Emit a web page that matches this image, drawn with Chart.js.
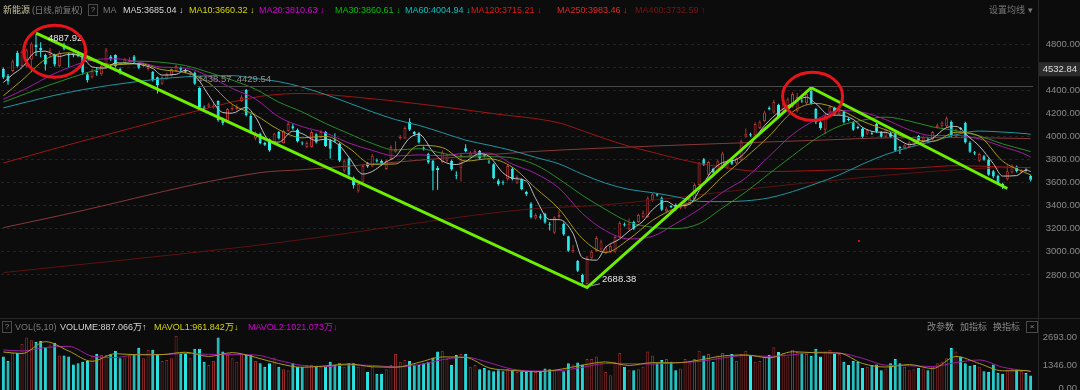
<!DOCTYPE html>
<html>
<head>
<meta charset="utf-8">
<script src="https://cdn.jsdelivr.net/npm/chart.js@4.4.1/dist/chart.umd.min.js"></script>
<style>
body{margin:0;background:#0c0c0c;width:1080px;height:390px;overflow:hidden;position:relative;font-family:"Liberation Sans","Noto Sans CJK SC",sans-serif}
canvas{position:absolute;left:0}
#priceChart{top:0}
#volChart{top:318px}
.t{position:absolute;white-space:nowrap;font-size:9px;line-height:12px}
.box{position:absolute;border:1px solid #4a4a4a;color:#8a8a8a;font-size:8px;line-height:10px;width:8px;height:10px;text-align:center}
</style>
</head>
<body>
<canvas id="priceChart" width="1080" height="318"></canvas>
<canvas id="volChart" width="1080" height="76"></canvas>

<div class="t" style="left:3px;top:4px;color:#c8c4a0">新能源</div>
<div class="t" style="left:32px;top:4px;color:#808080;font-size:8.5px">(日线,前复权)</div>
<div class="box" style="left:88px;top:4px">?</div>
<div class="t" style="left:103px;top:4px;color:#7a7a7a">MA</div>
<div class="t" style="left:123px;top:4px;color:#d4d4d4">MA5:3685.04 ↓</div>
<div class="t" style="left:189px;top:4px;color:#d6d600">MA10:3660.32 ↓</div>
<div class="t" style="left:259px;top:4px;color:#d400d4">MA20:3810.63 ↓</div>
<div class="t" style="left:335px;top:4px;color:#00c000">MA30:3860.61 ↓</div>
<div class="t" style="left:405px;top:4px;color:#00c4c4">MA60:4004.94 ↓</div>
<div class="t" style="left:471px;top:4px;color:#e01818">MA120:3715.21 ↓</div>
<div class="t" style="left:557px;top:4px;color:#e02828">MA250:3983.46 ↓</div>
<div class="t" style="left:635px;top:4px;color:#7e1414">MA400:3732.59 ↑</div>
<div class="t" style="left:989px;top:4px;color:#7a7a7a">设置均线 ▾</div>

<div class="box" style="left:2px;top:321px">?</div>
<div class="t" style="left:15px;top:320.5px;color:#7a7a7a">VOL(5,10)</div>
<div class="t" style="left:60px;top:320.5px;color:#d4d4d4">VOLUME:887.066万↑</div>
<div class="t" style="left:154px;top:320.5px;color:#d6d600">MAVOL1:961.842万↓</div>
<div class="t" style="left:248px;top:320.5px;color:#d400d4">MAVOL2:1021.073万↓</div>
<div class="t" style="left:927px;top:320.5px;color:#8a8a8a">改参数</div>
<div class="t" style="left:960px;top:320.5px;color:#8a8a8a">加指标</div>
<div class="t" style="left:993px;top:320.5px;color:#8a8a8a">换指标</div>
<div class="box" style="left:1026px;top:321px;width:10px">×</div>

<script>
// daily candles (index 0 = leftmost)
const opens = [4587,4530,4571,4729,4613,4613,4668,4800,4773,4709,4710,4704,4613,4800,4717,4717,4720,4709,4543,4516,
  4571,4543,4599,4696,4709,4587,4640,4655,4696,4634,4613,4587,4563,4516,4460,4502,4530,4571,4599,4580,
  4540,4557,4425,4253,4260,4255,4310,4157,4130,4235,4240,4310,4406,4179,3985,4025,3945,3978,3945,4040,
  3945,4050,4090,4060,3950,3910,3910,4020,3990,4040,3970,3975,3940,3705,3810,3645,3530,3605,3770,3740,
  3795,3790,3720,3810,3870,3985,3985,4130,4040,4030,3905,3850,3790,3730,3780,3790,3790,3670,3730,3900,
  3830,3855,3875,3840,3785,3760,3620,3605,3630,3720,3600,3630,3520,3420,3290,3310,3330,3240,3165,3300,
  3245,3135,3005,2920,2800,2720,2945,3010,3020,2990,3000,3000,3130,3240,3200,3260,3260,3300,3300,3445,
  3500,3470,3350,3395,3410,3380,3385,3425,3455,3580,3805,3670,3720,3700,3730,3730,3805,3770,3795,4000,
  4020,4010,4075,4135,4250,4210,4275,4230,4245,4260,4220,4315,4290,4400,4240,4125,4060,4210,4250,4195,
  4215,4155,4125,4085,4070,4025,4035,4110,4040,4000,4030,4035,3910,3900,3910,3930,4005,3955,3985,3975,
  4080,4090,4090,4130,4000,4075,4120,3950,3865,3790,3830,3800,3700,3660,3590,3630,3690,3740,3690,3715,
  3660];
const highs = [4600,4545,4670,4745,4750,4765,4820,4888,4820,4720,4770,4720,4745,4815,4730,4730,4740,4715,4560,4590,
  4600,4625,4770,4710,4715,4600,4685,4690,4710,4645,4640,4615,4570,4520,4525,4555,4595,4625,4610,4590,
  4570,4565,4430,4270,4295,4290,4315,4165,4250,4270,4280,4360,4415,4200,4045,4035,3955,3985,4035,4050,
  4060,4130,4110,4070,3960,3960,4055,4030,4055,4050,3980,4030,3950,3800,3820,3655,3600,3760,3780,3850,
  3810,3800,3800,3925,3960,4015,4090,4160,4050,4040,3915,3860,3800,3745,3880,3850,3800,3700,3850,3935,
  3875,3890,3885,3850,3800,3770,3635,3620,3760,3735,3665,3640,3530,3430,3335,3330,3340,3260,3310,3360,
  3255,3140,3060,2930,2810,2965,3015,3135,3105,3055,3065,3140,3265,3255,3290,3270,3330,3360,3480,3510,
  3510,3480,3390,3405,3420,3410,3450,3480,3595,3780,3815,3790,3730,3800,3870,3800,3815,3820,3975,4070,
  4035,4125,4140,4225,4265,4320,4285,4300,4340,4385,4380,4330,4385,4420,4250,4135,4195,4275,4260,4235,
  4225,4165,4135,4095,4080,4065,4045,4120,4050,4070,4040,4045,3920,3935,3960,3970,4015,4005,3995,4050,
  4115,4135,4175,4140,4070,4085,4130,3960,3875,3860,3840,3810,3710,3670,3600,3750,3760,3750,3720,3725,
  3670];
const lows = [4500,4450,4560,4600,4600,4600,4557,4700,4690,4575,4690,4610,4600,4750,4600,4690,4690,4540,4470,4505,
  4530,4530,4590,4660,4600,4540,4630,4645,4635,4585,4600,4575,4480,4375,4450,4495,4525,4565,4570,4550,
  4530,4450,4240,4225,4250,4245,4130,4100,4120,4225,4230,4300,4175,4025,3970,3935,3920,3870,3935,3975,
  3940,4045,4060,3950,3925,3900,3905,3940,3985,3910,3810,3950,3780,3690,3660,3550,3515,3600,3730,3735,
  3775,3750,3710,3805,3860,3975,3980,4050,4005,3940,3880,3765,3535,3540,3770,3780,3705,3630,3610,3865,
  3820,3845,3800,3820,3765,3630,3575,3580,3620,3620,3590,3535,3485,3290,3280,3280,3245,3185,3155,3290,
  3140,3000,2990,2825,2720,2688,2935,3000,3010,2980,2990,2990,3120,3220,3190,3190,3250,3290,3295,3435,
  3480,3355,3340,3380,3360,3370,3375,3415,3450,3575,3745,3660,3680,3690,3720,3720,3755,3760,3790,3990,
  4000,4000,4065,4125,4230,4200,4160,4220,4240,4250,4210,4295,4280,4280,4110,4060,4020,4200,4190,4185,
  4115,4135,4050,4065,3990,4015,4015,4035,3990,3990,3990,3870,3850,3890,3900,3920,3950,3945,3965,3965,
  4070,4080,4080,3995,3990,4055,3940,3860,3840,3780,3790,3660,3640,3585,3545,3620,3680,3690,3680,3695,
  3610];
const closes = [4516,4480,4654,4613,4737,4750,4806,4778,4750,4626,4750,4626,4729,4764,4704,4708,4705,4557,4489,4571,
  4557,4613,4750,4673,4613,4563,4670,4668,4646,4599,4626,4599,4489,4447,4516,4543,4587,4613,4580,4563,
  4555,4460,4253,4240,4282,4270,4143,4116,4240,4250,4255,4343,4185,4035,4030,3945,3930,3880,4025,3985,
  4050,4110,4070,3960,3940,3945,4040,3950,4040,3920,3895,3965,3790,3790,3670,3580,3590,3745,3740,3835,
  3785,3760,3790,3910,3895,4000,4075,4060,4020,3950,3895,3775,3705,3710,3865,3840,3715,3660,3840,3875,
  3860,3875,3810,3830,3775,3640,3590,3595,3745,3630,3650,3545,3500,3300,3320,3295,3255,3230,3300,3320,
  3150,3010,3015,2835,2735,2950,3000,3120,3090,3040,3050,3130,3250,3230,3245,3200,3320,3340,3465,3500,
  3490,3365,3375,3390,3370,3395,3440,3470,3580,3770,3755,3780,3690,3790,3855,3790,3765,3810,3960,4025,
  4010,4110,4125,4210,4240,4300,4170,4290,4325,4370,4345,4305,4370,4290,4125,4075,4180,4260,4200,4220,
  4125,4145,4060,4075,4000,4055,4025,4045,4000,4060,4000,3880,3900,3925,3950,3960,3960,3995,3975,4040,
  4100,4120,4160,4005,4060,4065,3950,3870,3855,3850,3800,3670,3655,3595,3570,3700,3745,3700,3710,3705,
  3625];
// volume, 万
const volumes = [1785,1570,1950,1950,2395,2690,2555,2475,2520,2225,2360,2440,1830,1830,1785,1410,1460,1540,1570,1815,
  1900,1860,1860,1900,2065,1705,1705,1830,1900,2195,1705,2110,2110,1900,1570,1620,1705,2770,1900,1950,
  1705,2160,2160,1540,1380,1570,2690,2030,1860,1705,1540,1900,1860,1860,1570,1460,1295,1460,1735,1295,
  1180,1130,1460,1295,1295,1380,1380,1345,1295,1295,1540,1380,1460,1295,1460,1460,1295,1380,1050,1300,
  965,965,1180,1380,1900,1540,1620,1570,1410,1380,1460,1540,1735,2030,2065,1670,1380,1860,1900,1900,
  1295,1380,1180,1240,1130,1080,1130,1080,1200,1130,1050,1080,1050,1080,1050,1100,1215,1180,1150,1180,
  1080,1460,1410,1500,1410,1670,1670,1785,1460,1050,890,1540,1950,1295,1130,1130,1180,1295,2030,1830,
  1460,1620,1670,1540,1130,1215,1670,1460,1670,2065,1830,1900,1540,1830,1950,1860,1900,1570,1900,2065,
  1860,1540,1570,1785,1860,2225,2000,1950,1785,2110,2000,1950,1900,1815,2160,1785,2030,2110,1900,1900,
  1540,1380,1570,1540,1240,1295,1380,1410,1130,1215,1460,1670,1460,1295,1130,1180,1240,1215,1130,1295,
  1460,1540,1705,2195,2030,1785,1460,1345,1380,1295,1080,1050,1410,1015,965,1130,1200,1150,1100,1000,
  887];

// moving averages read at sample points: [index, value]
const ma5 = [[0,4470],[2,4540],[4,4600],[7,4737],[9,4742],[12,4696],[14,4715],[17,4688],[19,4606],[22,4596],[24,4641],
  [27,4637],[29,4629],[32,4592],[34,4535],[37,4541],[39,4577],[42,4482],[44,4358],[47,4210],[49,4204],[52,4255],
  [54,4170],[57,3964],[59,3953],[62,4048],[64,4026],[67,3967],[69,3979],[72,3922],[74,3822],[77,3675],[79,3698],
  [82,3782],[84,3828],[87,3988],[89,4021],[92,3869],[94,3790],[97,3758],[99,3786],[102,3852],[104,3830],[107,3686],
  [109,3640],[112,3614],[114,3463],[117,3280],[119,3280],[122,3159],[124,2949],[127,2928],[129,3040],[132,3112],
  [134,3181],[137,3267],[139,3365],[142,3439],[144,3398],[147,3413],[149,3531],[152,3715],[154,3774],[157,3802],
  [159,3870],[162,4046],[164,4139],[167,4242],[169,4291],[172,4343],[174,4287],[177,4186],[179,4187],[182,4150],
  [184,4081],[187,4040],[189,4037],[192,3968],[194,3931],[197,3958],[199,3986],[202,4079],[204,4089],[207,3990],
  [209,3918],[212,3766],[214,3658],[217,3662],[219,3711],[220,3697]];
const ma10 = [[0,4355],[4,4490],[9,4671],[14,4728],[19,4660],[24,4624],[29,4635],[34,4582],[39,4556],[44,4468],[49,4281],
  [54,4187],[59,4061],[64,3990],[69,4003],[74,3901],[79,3760],[84,3763],[89,3925],[94,3906],[99,3788],[104,3808],
  [109,3735],[114,3552],[119,3372],[124,3115],[129,2995],[134,3111],[139,3273],[144,3382],[149,3465],[154,3653],
  [159,3822],[164,4005],[169,4215],[174,4289],[179,4237],[184,4134],[189,4059],[194,3984],[199,3959],[204,4038],
  [209,4004],[214,3788],[219,3685],[220,3668]];
const ma20 = [[0,4325],[5,4420],[10,4530],[14,4600],[19,4666],[24,4676],[29,4648],[34,4603],[39,4596],[44,4525],[49,4419],
  [54,4327],[59,4171],[64,4088],[69,4032],[74,3945],[79,3881],[84,3832],[89,3842],[94,3834],[99,3856],[104,3857],
  [109,3762],[114,3680],[119,3553],[124,3333],[129,3183],[134,3113],[139,3134],[144,3246],[149,3369],[154,3517],
  [159,3643],[164,3829],[169,4019],[174,4147],[179,4226],[184,4212],[189,4148],[194,4059],[199,4009],[204,4011],
  [209,3981],[214,3913],[219,3844],[220,3820]];
const ma30 = [[0,4300],[10,4450],[20,4580],[29,4656],[34,4645],[39,4617],[44,4558],[49,4491],[54,4412],[59,4300],[64,4215],
  [69,4115],[74,4026],[79,3941],[84,3884],[89,3896],[94,3856],[99,3824],[104,3826],[109,3816],[114,3755],[119,3632],
  [124,3491],[129,3367],[134,3259],[139,3213],[144,3202],[149,3244],[154,3382],[159,3520],[164,3680],[169,3834],
  [174,3982],[179,4091],[184,4143],[189,4170],[194,4136],[199,4085],[204,4052],[209,4007],[214,3937],[219,3882],[220,3870]];
const ma60 = [[0,4250],[10,4350],[17,4408],[28,4475],[39,4520],[49,4530],[54,4505],[59,4478],[64,4430],[69,4366],[74,4292],
  [79,4216],[84,4148],[89,4098],[94,4035],[99,3970],[104,3926],[109,3879],[114,3820],[119,3764],[124,3674],[129,3596],
  [134,3542],[139,3514],[144,3479],[149,3438],[154,3436],[159,3443],[164,3469],[169,3523],[174,3592],[179,3668],
  [184,3762],[189,3845],[194,3908],[199,3959],[204,4017],[209,4049],[214,4040],[219,4026],[220,4020]];
const ma120 = [[0,3771],[14,3930],[28,4080],[42,4230],[55,4350],[64,4375],[75,4345],[90,4280],[105,4200],[119,4120],
  [124,4052],[129,3981],[134,3917],[139,3865],[144,3813],[149,3768],[154,3736],[159,3706],[164,3697],[174,3706],
  [184,3718],[194,3725],[204,3748],[214,3738],[220,3730]];
const ma250 = [[0,3210],[12,3314],[55,3688],[64,3713],[113,3870],[128,3900],[150,3935],[175,3970],[190,3990],[205,3992],[220,3983]];
const ma400 = [[0,2820],[53,3050],[64,3107],[113,3373],[128,3405],[170,3590],[213,3730],[220,3733]];
const mavol1 = [[0,2000],[4,1930],[9,2493],[14,2049],[19,1559],[24,1917],[29,1867],[34,1879],[39,1989],[44,1789],[49,1971],
  [54,1746],[59,1449],[64,1272],[69,1339],[74,1427],[79,1297],[84,1278],[89,1504],[94,1766],[99,1742],[104,1245],
  [109,1124],[114,1062],[119,1165],[124,1372],[129,1527],[134,1361],[139,1493],[144,1484],[149,1616],[154,1810],
  [159,1859],[164,1723],[169,2014],[174,1965],[179,1945],[184,1454],[189,1286],[194,1403],[199,1212],[204,1786],
  [209,1453],[214,1104],[219,1116],[220,1067]];
const mavol2 = [[0,2100],[4,2050],[9,2212],[14,2271],[19,1804],[24,1738],[29,1892],[34,1873],[39,1934],[44,1889],[49,1880],
  [54,1859],[59,1598],[64,1361],[69,1306],[74,1383],[79,1362],[84,1288],[89,1391],[94,1635],[99,1754],[104,1494],
  [109,1185],[114,1093],[119,1114],[124,1269],[129,1450],[134,1444],[139,1427],[144,1489],[149,1550],[154,1713],
  [159,1835],[164,1791],[169,1869],[174,1990],[179,1955],[184,1700],[189,1370],[194,1345],[199,1308],[204,1499],
  [209,1620],[214,1279],[219,1110],[220,1091]];

// drawn trend line and circled tops
const trendLine = [[7,4900],[125,2690],[173,4425],[215,3550]];
const circledTops = [[11,4742],[173.3,4350]];
const highMark = [7, 4887.92], lowMark = [125, 2688.38];
const refLine = 4438.57;
const redDot = [183, 3105];
const priceTicks = [2800,3000,3200,3400,3600,3800,4000,4200,4400,4600,4800];
const volTicks = [0,1346,2693];

const CYAN = '#2ef0f0', RED = '#b53434', VRED = '#9a2c2c', BG = '#0c0c0c';
const FONT = '"Liberation Sans", "Noto Sans CJK SC", sans-serif';
const idx = closes.map((_, i) => i);
const up = closes.map((c, i) => c >= opens[i]);
const pts = arr => arr.map(([x, y]) => ({ x, y }));

const maLine = (data, color, order) => ({
  type: 'line', data: pts(data), borderColor: color, borderWidth: 1,
  pointRadius: 0, cubicInterpolationMode: 'monotone', order
});

const sepLine = {
  id: 'sepLine',
  afterDraw(chart) {
    const ctx = chart.ctx;
    ctx.save();
    ctx.strokeStyle = '#262626';
    ctx.lineWidth = 1;
    ctx.beginPath();
    ctx.moveTo(1038.5, 0);
    ctx.lineTo(1038.5, chart.height);
    ctx.stroke();
    ctx.restore();
  }
};

const overlay = {
  id: 'overlay',
  afterDatasetsDraw(chart) {
    const { ctx, scales: { x, y }, chartArea } = chart;
    ctx.save();
    ctx.font = '9.5px ' + FONT;
    ctx.textBaseline = 'middle';

    // reference line + its labels
    const ry = Math.round(y.getPixelForValue(refLine)) + 0.5;
    ctx.strokeStyle = '#4a4a4a';
    ctx.lineWidth = 1;
    ctx.beginPath();
    ctx.moveTo(x.getPixelForValue(41.5), ry);
    ctx.lineTo(chartArea.right, ry);
    ctx.stroke();
    ctx.fillStyle = '#8c8c8c';
    ctx.fillText('4438.57  4429.54', x.getPixelForValue(41.5), ry - 7);

    // high / low labels
    ctx.fillStyle = '#e6e6e6';
    ctx.fillText(highMark[1].toFixed(2), x.getPixelForValue(highMark[0]) + 12, y.getPixelForValue(highMark[1]) + 3.5);
    const lx = x.getPixelForValue(lowMark[0]), ly = y.getPixelForValue(lowMark[1]);
    ctx.strokeStyle = '#9a9a9a';
    ctx.beginPath();
    ctx.moveTo(lx + 2, ly - 1.5);
    ctx.lineTo(lx + 13, ly - 4);
    ctx.stroke();
    ctx.fillText(lowMark[1].toFixed(2), lx + 15, ly - 8.3);

    // stray dot
    ctx.fillStyle = '#d01010';
    ctx.fillRect(Math.round(x.getPixelForValue(redDot[0])), Math.round(y.getPixelForValue(redDot[1])), 2, 2);

    // red rings
    const rings = [[31, 26], [30, 24]];
    ctx.strokeStyle = '#e8141c';
    ctx.lineWidth = 3;
    circledTops.forEach(([i, v], k) => {
      ctx.beginPath();
      ctx.ellipse(x.getPixelForValue(i), y.getPixelForValue(v), rings[k][0], rings[k][1], 0, 0, Math.PI * 2);
      ctx.stroke();
    });

    // highlighted axis label
    const by = y.getPixelForValue(4585);
    ctx.fillStyle = '#2c2c2c';
    ctx.fillRect(1039, by - 7, 41, 14);
    ctx.fillStyle = '#dcdcdc';
    ctx.textAlign = 'right';
    ctx.fillText('4532.84', 1077, by);
    ctx.restore();
  }
};

new Chart(document.getElementById('priceChart'), {
  type: 'bar',
  data: {
    datasets: [
      {
        data: idx.map(i => ({ x: i, y: [lows[i], highs[i]] })),
        backgroundColor: up.map(u => u ? RED : CYAN),
        barThickness: 1, grouped: false, inflateAmount: 0, order: 30
      },
      {
        data: idx.map(i => ({ x: i, y: [opens[i], closes[i]] })),
        backgroundColor: up.map(u => u ? BG : CYAN),
        borderColor: up.map(u => u ? RED : CYAN),
        borderWidth: 1, borderSkipped: false, minBarLength: 1,
        barThickness: 3, grouped: false, inflateAmount: 0, order: 29
      },
      maLine(ma400, '#5e1212', 20),
      maLine(ma250, '#86393a', 19),
      maLine(ma120, '#9c1616', 18),
      maLine(ma60, '#1f96a0', 17),
      maLine(ma30, '#2a8c2a', 16),
      maLine(ma20, '#a01ca6', 15),
      maLine(ma10, '#a89c18', 14),
      maLine(ma5, '#bdbdbd', 13),
      {
        type: 'line', data: pts(trendLine), borderColor: '#6cf000', borderWidth: 3,
        pointRadius: 0, tension: 0, order: 1
      }
    ]
  },
  options: {
    responsive: false,
    animation: false,
    layout: { padding: { left: 1, top: 20, bottom: 2, right: 0 } },
    plugins: { legend: { display: false }, tooltip: { enabled: false } },
    scales: {
      x: { type: 'linear', min: -0.5, max: closes.length - 0.5, offset: false, display: false },
      y: {
        position: 'right', min: 2562, max: 5013,
        afterBuildTicks: s => { s.ticks = priceTicks.map(v => ({ value: v })); },
        afterFit: s => { s.width = 47; },
        grid: { color: '#242424', drawTicks: false },
        border: { display: false, dash: [3, 3] },
        ticks: {
          color: '#8a8a8a', padding: 10, crossAlign: 'far',
          font: { size: 9.5, family: FONT },
          callback: v => Number(v).toFixed(2)
        }
      }
    }
  },
  plugins: [overlay, sepLine]
});

const volLabels = {
  id: 'volLabels',
  afterDraw(chart) {
    const { ctx, scales: { y } } = chart;
    ctx.save();
    ctx.strokeStyle = '#262626';
    ctx.beginPath();
    ctx.moveTo(0, 0.5);
    ctx.lineTo(1080, 0.5);
    ctx.stroke();
    ctx.font = '9.5px ' + FONT;
    ctx.fillStyle = '#8a8a8a';
    ctx.textAlign = 'right';
    ctx.textBaseline = 'middle';
    volTicks.forEach(v => {
      ctx.fillText(v.toFixed(2), 1077, Math.min(y.getPixelForValue(v), 70.5));
    });
    ctx.restore();
  }
};

new Chart(document.getElementById('volChart'), {
  type: 'bar',
  data: {
    datasets: [
      maLine(mavol1, '#a89c18', 2),
      maLine(mavol2, '#a01ca6', 3),
      {
        data: idx.map(i => ({ x: i, y: volumes[i] })),
        backgroundColor: up.map(u => u ? BG : CYAN),
        borderColor: up.map(u => u ? VRED : CYAN),
        borderWidth: 1, borderSkipped: false,
        barThickness: 3, grouped: false, inflateAmount: 0, order: 10
      }
    ]
  },
  options: {
    responsive: false,
    animation: false,
    layout: { padding: { left: 1, top: 4, bottom: 0, right: 0 } },
    plugins: { legend: { display: false }, tooltip: { enabled: false } },
    scales: {
      x: { type: 'linear', min: -0.5, max: closes.length - 0.5, offset: false, display: false },
      y: {
        position: 'right', min: 0, max: 3430,
        afterFit: s => { s.width = 47; },
        grid: { display: false }, border: { display: false }, ticks: { display: false }
      }
    }
  },
  plugins: [volLabels, sepLine]
});
</script>
</body>
</html>
